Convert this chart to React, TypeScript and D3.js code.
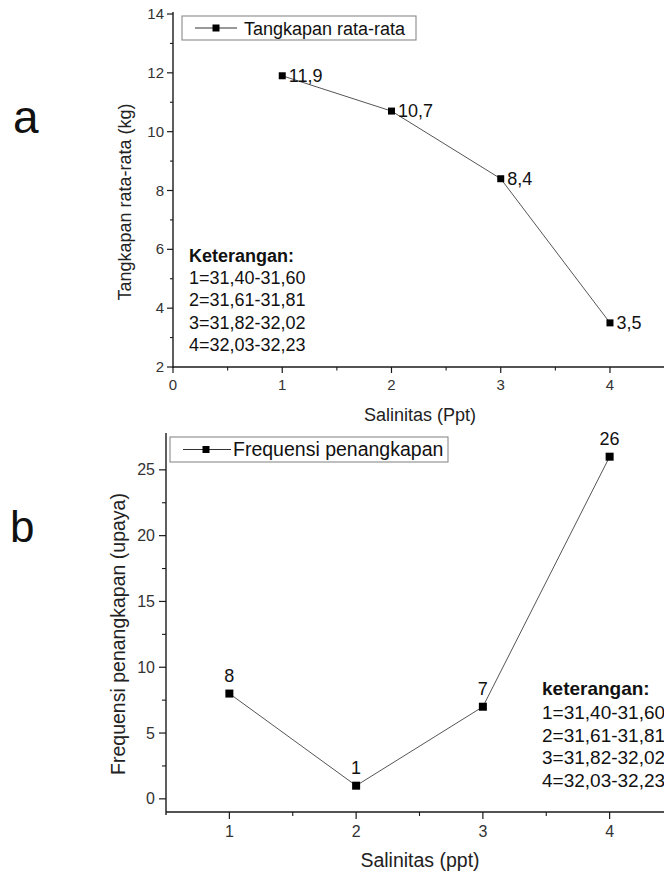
import React from "react";
import * as d3 from "d3";

// ---------- data ----------
const salinityClasses = [1, 2, 3, 4];
const catchAverage = [11.9, 10.7, 8.4, 3.5];
const catchLabels = ["11,9", "10,7", "8,4", "3,5"];
const catchFrequency = [8, 1, 7, 26];
const frequencyLabels = ["8", "1", "7", "26"];
const keteranganRanges = ["1=31,40-31,60", "2=31,61-31,81", "3=31,82-32,02", "4=32,03-32,23"];
const yTicksA = [2, 4, 6, 8, 10, 12, 14];
const yMinorA = [3, 5, 7, 9, 11, 13];
const xTicksA = [0, 1, 2, 3, 4];
const xMinorA = [0.5, 1.5, 2.5, 3.5];
const yTicksB = [0, 5, 10, 15, 20, 25];
const yMinorB = [2.5, 7.5, 12.5, 17.5, 22.5];
const xTicksB = [1, 2, 3, 4];
const xMinorB = [1.5, 2.5, 3.5];

const FONT = "'Liberation Sans', Arial, Helvetica, sans-serif";
const AXIS = "#1a1a1a";
const TICKTXT = "#333";

export default function App() {
  // Panel A scales
  const xA = d3.scaleLinear().domain([0, 4.5]).range([173, 664.6]);
  const yA = d3.scaleLinear().domain([2, 14]).range([367, 14]);
  // Panel B scales
  const xB = d3.scaleLinear().domain([0.5, 4.5]).range([166, 673]);
  const yB = d3.scaleLinear().domain([-1, 27.8]).range([812, 433]);

  const ptsA = salinityClasses.map((c, i) => [xA(c), yA(catchAverage[i])] as [number, number]);
  const ptsB = salinityClasses.map((c, i) => [xB(c), yB(catchFrequency[i])] as [number, number]);
  const line = d3.line<[number, number]>();

  const mA = 7;
  const mB = 8;

  return (
    <svg
      width={664}
      height={872}
      style={{ position: "absolute", left: 0, top: 0, background: "#fff" }}
      fontFamily={FONT}
    >
      <rect x={0} y={0} width={664} height={872} fill="#fff" />

      {/* ---------------- Panel A ---------------- */}
      <text x={13} y={133} fontSize={46} fill="#111">a</text>

      {/* axes */}
      <line x1={xA(0)} x2={xA(0)} y1={yA(2) + 1} y2={yA(14) - 2} stroke={AXIS} strokeWidth={1.4} />
      <line x1={xA(0)} x2={664} y1={yA(2)} y2={yA(2)} stroke={AXIS} strokeWidth={1.6} />
      {yTicksA.map((t) => (
        <g key={"ya" + t}>
          <line x1={xA(0) - 6} x2={xA(0)} y1={yA(t)} y2={yA(t)} stroke={AXIS} strokeWidth={1.2} />
          <text x={xA(0) - 9} y={yA(t) + 5} fontSize={15} textAnchor="end" fill={TICKTXT}>{t}</text>
        </g>
      ))}
      {yMinorA.map((t) => (
        <line key={"yma" + t} x1={xA(0) - 3} x2={xA(0)} y1={yA(t)} y2={yA(t)} stroke={AXIS} strokeWidth={1.1} />
      ))}
      {xTicksA.map((t) => (
        <g key={"xa" + t}>
          <line x1={xA(t)} x2={xA(t)} y1={yA(2)} y2={yA(2) + 6} stroke={AXIS} strokeWidth={1.2} />
          <text x={xA(t)} y={390} fontSize={15} textAnchor="middle" fill={TICKTXT}>{t}</text>
        </g>
      ))}
      {xMinorA.map((t) => (
        <line key={"xma" + t} x1={xA(t)} x2={xA(t)} y1={yA(2)} y2={yA(2) + 3.5} stroke={AXIS} strokeWidth={1.1} />
      ))}

      {/* titles */}
      <text x={420} y={421} fontSize={18} textAnchor="middle" fill="#222">Salinitas (Ppt)</text>
      <text transform="translate(131,202) rotate(-90)" fontSize={18} textAnchor="middle" fill="#222">
        Tangkapan rata-rata (kg)
      </text>

      {/* legend */}
      <rect x={182} y={16} width={234} height={24} fill="#fff" stroke="#8a8a8a" strokeWidth={1.1} />
      <line x1={195} x2={237} y1={28} y2={28} stroke="#333" strokeWidth={1} />
      <rect x={216 - mA / 2} y={28 - mA / 2} width={mA} height={mA} fill="#000" />
      <text x={244} y={34.5} fontSize={18} fill="#111">Tangkapan rata-rata</text>

      {/* data */}
      <path d={line(ptsA) || ""} fill="none" stroke="#555" strokeWidth={1} />
      {ptsA.map(([x, y], i) => (
        <g key={"pa" + i}>
          <rect x={x - mA / 2} y={y - mA / 2} width={mA} height={mA} fill="#000" />
          <text x={x + mA / 2 + 3} y={y + 6} fontSize={18} fill="#111">{catchLabels[i]}</text>
        </g>
      ))}

      {/* keterangan */}
      <text x={189} y={262} fontSize={18} fontWeight="bold" fill="#111">Keterangan:</text>
      {keteranganRanges.map((s, i) => (
        <text key={"ka" + i} x={189} y={284 + i * 22.3} fontSize={18} fill="#111">{s}</text>
      ))}

      {/* ---------------- Panel B ---------------- */}
      <text x={10} y={542} fontSize={44} fill="#111">b</text>

      <line x1={xB(0.5)} x2={xB(0.5)} y1={815} y2={433} stroke={AXIS} strokeWidth={1.4} />
      <line x1={xB(0.5)} x2={664} y1={812} y2={812} stroke={AXIS} strokeWidth={1.6} />
      {yTicksB.map((t) => (
        <g key={"yb" + t}>
          <line x1={xB(0.5) - 7} x2={xB(0.5)} y1={yB(t)} y2={yB(t)} stroke={AXIS} strokeWidth={1.2} />
          <text x={xB(0.5) - 11} y={yB(t) + 5.5} fontSize={16} textAnchor="end" fill={TICKTXT}>{t}</text>
        </g>
      ))}
      {yMinorB.map((t) => (
        <line key={"ymb" + t} x1={xB(0.5) - 4} x2={xB(0.5)} y1={yB(t)} y2={yB(t)} stroke={AXIS} strokeWidth={1.1} />
      ))}
      {xTicksB.map((t) => (
        <g key={"xb" + t}>
          <line x1={xB(t)} x2={xB(t)} y1={812} y2={819} stroke={AXIS} strokeWidth={1.2} />
          <text x={xB(t)} y={837} fontSize={16} textAnchor="middle" fill={TICKTXT}>{t}</text>
        </g>
      ))}
      {xMinorB.map((t) => (
        <line key={"xmb" + t} x1={xB(t)} x2={xB(t)} y1={812} y2={816} stroke={AXIS} strokeWidth={1.1} />
      ))}

      <text x={420} y={867} fontSize={19.5} textAnchor="middle" fill="#222">Salinitas (ppt)</text>
      <text transform="translate(125,634) rotate(-90)" fontSize={19.5} textAnchor="middle" fill="#222">
        Frequensi penangkapan (upaya)
      </text>

      {/* legend */}
      <rect x={170} y={437} width={278} height={25} fill="#fff" stroke="#8a8a8a" strokeWidth={1.1} />
      <line x1={183} x2={231} y1={449.5} y2={449.5} stroke="#333" strokeWidth={1} />
      <rect x={206 - mA / 2} y={449.5 - mA / 2} width={mA} height={mA} fill="#000" />
      <text x={233} y={456} fontSize={19.5} fill="#111">Frequensi penangkapan</text>

      <path d={line(ptsB) || ""} fill="none" stroke="#555" strokeWidth={1} />
      {ptsB.map(([x, y], i) => (
        <g key={"pb" + i}>
          <rect x={x - mB / 2} y={y - mB / 2} width={mB} height={mB} fill="#000" />
          <text x={x} y={y - 12} fontSize={18} textAnchor="middle" fill="#111">{frequencyLabels[i]}</text>
        </g>
      ))}

      <text x={542} y={695} fontSize={19} fontWeight="bold" fill="#111">keterangan:</text>
      {keteranganRanges.map((s, i) => (
        <text key={"kb" + i} x={542} y={719 + i * 22.5} fontSize={19} fill="#111">{s}</text>
      ))}
    </svg>
  );
}
